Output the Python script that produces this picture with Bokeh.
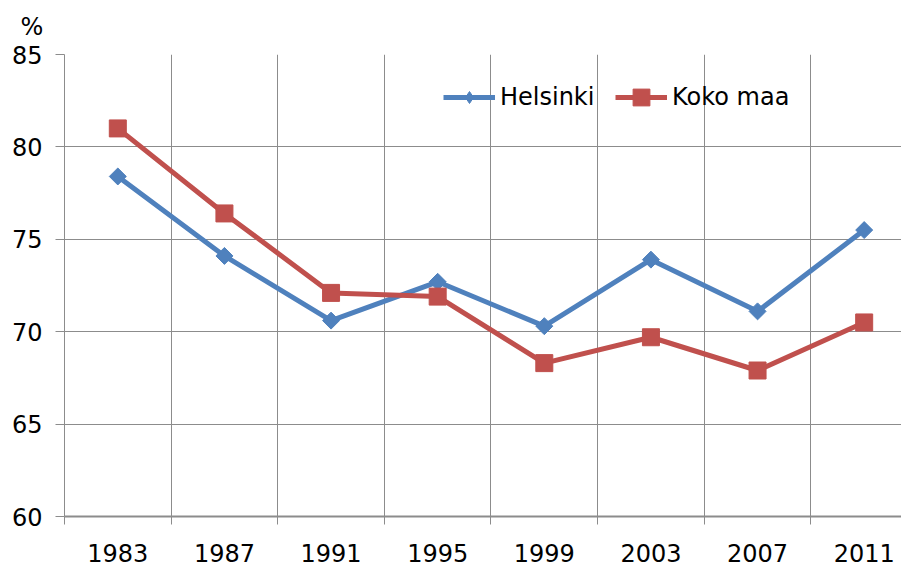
import math
from bokeh.plotting import figure
from bokeh.models import FixedTicker, Range1d, Legend, LegendItem, Title
from bokeh.embed import file_html
from bokeh.resources import INLINE

years = ["1983", "1987", "1991", "1995", "1999", "2003", "2007", "2011"]
helsinki = [78.4, 74.1, 70.6, 72.7, 70.3, 73.9, 71.1, 75.5]
koko_maa = [81.0, 76.4, 72.1, 71.9, 68.3, 69.7, 67.9, 70.5]
y_ticks = [60, 65, 70, 75, 80, 85]

BLUE = "#4F81BD"
RED = "#C0504D"
GRID = "#8C8C8C"
FONT = "DejaVu Sans"
FS = "24px"

xs = [i + 0.5 for i in range(len(years))]

p = figure(width=901, height=570, output_backend="svg", toolbar_location=None,
           x_range=Range1d(0, 7.85), y_range=Range1d(60, 85),
           min_border_left=64, min_border_right=0, min_border_top=54, min_border_bottom=54)
p.outline_line_color = None
p.background_fill_color = "white"

p.title = Title(text="%", align="left", offset=-44, standoff=24, vertical_align="top",
                text_font=FONT, text_font_size=FS, text_font_style="normal",
                text_color="black")

# grids
p.xgrid.ticker = FixedTicker(ticks=list(range(0, 9)))
p.xgrid.grid_line_color = GRID
p.xgrid.grid_line_width = 1
p.ygrid.ticker = FixedTicker(ticks=y_ticks)
p.ygrid.grid_line_color = GRID
p.ygrid.grid_line_width = 1

# x axis
p.xaxis.ticker = FixedTicker(ticks=xs, minor_ticks=list(range(0, 9)))
p.xaxis.major_label_overrides = {x: y for x, y in zip(xs, years)}
p.xaxis.major_tick_line_color = None
p.xaxis.minor_tick_line_color = GRID
p.xaxis.minor_tick_out = 8
p.xaxis.minor_tick_in = 0
p.xaxis.axis_line_color = GRID
p.xaxis.axis_line_width = 2
p.xaxis.major_label_standoff = 19
p.xaxis.major_label_text_font = FONT
p.xaxis.major_label_text_font_size = FS
p.xaxis.major_label_text_color = "black"

# y axis
p.yaxis.ticker = FixedTicker(ticks=y_ticks)
p.yaxis.major_tick_line_color = GRID
p.yaxis.major_tick_out = 9
p.yaxis.major_tick_in = 0
p.yaxis.minor_tick_line_color = None
p.yaxis.axis_line_color = GRID
p.yaxis.major_label_standoff = 13
p.yaxis.major_label_text_font = FONT
p.yaxis.major_label_text_font_size = FS
p.yaxis.major_label_text_color = "black"

l1 = p.line(xs, helsinki, line_color=BLUE, line_width=5)
m1 = p.scatter(xs, helsinki, marker="square", size=12, angle=math.pi / 4,
               fill_color=BLUE, line_color=BLUE)
l2 = p.line(xs, koko_maa, line_color=RED, line_width=5)
m2 = p.scatter(xs, koko_maa, marker="square", size=17,
               fill_color=RED, line_color=RED)

# legend-only diamond marker (a single invisible NaN point, so nothing is plotted)
m1_leg = p.scatter([float("nan")], [float("nan")], marker="diamond", size=12,
                   fill_color=BLUE, line_color=BLUE)

common = dict(orientation="horizontal", glyph_width=52, label_standoff=5,
              padding=0, margin=0, border_line_color=None,
              background_fill_alpha=0, label_text_font=FONT,
              label_text_font_size=FS, label_text_color="black")

leg1 = Legend(items=[LegendItem(label="Helsinki", renderers=[l1, m1_leg])],
              location=(379, 404), glyph_height=30, **common)
leg2 = Legend(items=[LegendItem(label="Koko maa", renderers=[l2, m2])],
              location=(551, 398), glyph_height=42, **common)
p.add_layout(leg1, "center")
p.add_layout(leg2, "center")

open("out.html", "w").write(file_html(p, INLINE))
